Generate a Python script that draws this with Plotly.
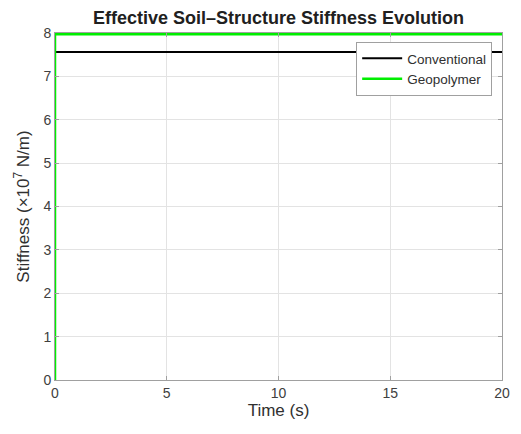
import plotly.graph_objects as go

time_s = [0, 0, 20]
conventional = [0, 7.56, 7.56]
geopolymer = [0, 7.97, 7.97]
series_names = ["Conventional", "Geopolymer"]
x_ticks = [0, 5, 10, 15, 20]
y_ticks = [0, 1, 2, 3, 4, 5, 6, 7, 8]

FONT = "Liberation Sans, Arial"
W, H = 513, 426  # page body adds an 8px offset

fig = go.Figure()
fig.add_trace(go.Scatter(x=time_s, y=conventional, mode="lines", name=series_names[0],
                         line=dict(color="#000000", width=2)))
fig.add_trace(go.Scatter(x=time_s, y=geopolymer, mode="lines", name=series_names[1],
                         line=dict(color="#00EE00", width=2.5)))

axis_common = dict(showgrid=True, gridcolor="#E3E3E3", gridwidth=1, zeroline=False,
                   showline=True, linecolor="#A0A0A0", linewidth=1, mirror="ticks",
                   ticks="inside", ticklen=4, tickcolor="#A0A0A0", automargin=False,
                   tickfont=dict(family=FONT, size=14, color="#404040"))

fig.update_layout(
    width=W, height=H,
    paper_bgcolor="white", plot_bgcolor="white",
    margin=dict(l=47, r=19, t=25, b=54),
    title=dict(text="<b>Effective Soil\u2013Structure Stiffness Evolution</b>", x=0.5, xanchor="center",
               xref="paper", y=1 - 10 / H, yanchor="middle",
               font=dict(family=FONT, size=18, color="#202020")),
    xaxis=dict(range=[0, 20], tickvals=x_ticks, title=dict(text="Time (s)", standoff=4,
               font=dict(family=FONT, size=17, color="#303030")), **axis_common),
    yaxis=dict(range=[0, 8], tickvals=y_ticks, title=dict(text="Stiffness (\u00d710<sup>7</sup> N/m)", standoff=9,
               font=dict(family=FONT, size=17, color="#303030")), **axis_common),
    legend=dict(x=0.978, y=0.974, xanchor="right", yanchor="top", bgcolor="white",
                bordercolor="#A0A0A0", borderwidth=1, tracegroupgap=0, itemwidth=40,
                font=dict(family=FONT, size=13.5, color="#303030")),
    showlegend=True,
)

fig.write_html("out.html")
